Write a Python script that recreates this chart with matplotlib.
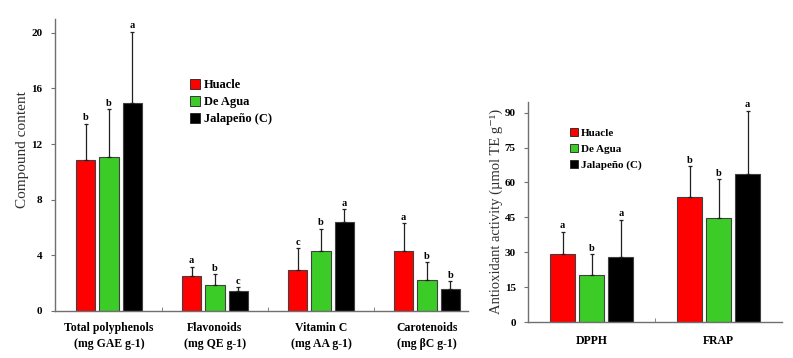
import numpy as np
import matplotlib.pyplot as plt
from matplotlib.patches import Patch

plt.rcParams['font.family'] = ['Liberation Serif', 'DejaVu Serif']

varieties = ['Huacle', 'De Agua', 'Jalapeño (C)']
colors = ['#ff0000', '#3ccc28', '#000000']

# left panel: compound content
compounds = ['Total polyphenols\n(mg GAE g-1)', 'Flavonoids\n(mg QE g-1)',
             'Vitamin C\n(mg AA g-1)', 'Carotenoids\n(mg βC g-1)']
huacle_c = [10.83, 2.47, 2.95, 4.27]
deagua_c = [11.06, 1.87, 4.31, 2.20]
jalap_c = [14.92, 1.42, 6.37, 1.56]
huacle_c_err = [2.63, 0.69, 1.53, 2.01]
deagua_c_err = [3.43, 0.77, 1.58, 1.30]
jalap_c_err = [5.18, 0.26, 0.94, 0.57]
letters_c = [['b', 'a', 'c', 'a'], ['b', 'b', 'b', 'b'], ['a', 'c', 'a', 'b']]

# right panel: antioxidant activity
assays = ['DPPH', 'FRAP']
huacle_a = [29.2, 53.6]
deagua_a = [20.3, 44.6]
jalap_a = [28.1, 63.8]
huacle_a_err = [9.6, 13.5]
deagua_a_err = [8.9, 16.9]
jalap_a_err = [15.8, 27.0]
letters_a = [['a', 'b'], ['b', 'b'], ['a', 'a']]

fig = plt.figure(figsize=(7.93, 3.58), dpi=100)
ax1 = fig.add_axes([55/793, 1-310.7/358, 412.7/793, 291.7/358])
ax2 = fig.add_axes([528.3/793, 1-322/358, 253.7/793, 220.3/358])


def draw(ax, vals, errs, letters, width, step, off):
    x = np.arange(len(vals[0]))
    for i in range(3):
        xs = x + (i - 1) * step
        ax.bar(xs, vals[i], width, color=colors[i], edgecolor='#404040', linewidth=0.8, zorder=2)
        ax.errorbar(xs, vals[i], yerr=[np.zeros(len(x)), errs[i]], fmt='none',
                    ecolor='#202020', elinewidth=0.9, capsize=1.2, capthick=0.9, zorder=3)
        for j in range(len(x)):
            ax.text(xs[j], vals[i][j] + errs[i][j] + off, letters[i][j], ha='center', va='bottom',
                    fontsize=7.5, fontweight='bold')
    for s in ['top', 'right']:
        ax.spines[s].set_visible(False)
    for s in ['left', 'bottom']:
        ax.spines[s].set_color('#707070')
        ax.spines[s].set_linewidth(1.0)
    ax.set_xticks(x[:-1] + 0.5, minor=True)
    ax.tick_params(axis='x', which='major', length=0)
    ax.tick_params(axis='x', which='minor', direction='in', length=3, color='#707070')
    ax.tick_params(axis='y', direction='out', length=3, color='#707070', labelsize=8, pad=6)
    for lab in ax.get_yticklabels():
        lab.set_fontweight('bold')


draw(ax1, [huacle_c, deagua_c, jalap_c], [huacle_c_err, deagua_c_err, jalap_c_err],
     letters_c, 0.18, 0.22, 0.1)
ax1.set_xlim(-0.509, 3.384)
ax1.set_ylim(0, 21)
ax1.set_yticks([0, 4, 8, 12, 16, 20])
ax1.set_xticks(range(4))
ax1.set_xticklabels(compounds, fontweight='bold', fontsize=8.5, linespacing=1.5)
ax1.tick_params(axis='x', which='major', pad=8)
ax1.set_ylabel('Compound content', fontsize=11, color='#303030')
ax1.yaxis.set_label_coords(-0.063, 0.551)

draw(ax2, [huacle_a, deagua_a, jalap_a], [huacle_a_err, deagua_a_err, jalap_a_err],
     letters_a, 0.197, 0.229, 0.6)
ax2.set_xlim(-0.5, 1.5)
ax2.set_ylim(0, 94.7)
ax2.set_yticks([0, 15, 30, 45, 60, 75, 90])
ax2.set_xticks(range(2))
ax2.set_xticklabels(assays, fontweight='bold', fontsize=8.5)
ax2.tick_params(axis='x', which='major', pad=9)
ax2.set_ylabel('Antioxidant activity (µmol TE g⁻¹)', fontsize=10.5, color='#303030')
ax2.yaxis.set_label_coords(-0.1, 0.504)

handles = [Patch(facecolor=c, edgecolor='#202020', linewidth=0.6) for c in colors]
fig.legend(handles, varieties, loc='upper left', bbox_to_anchor=(190/793, 1-79/358),
           frameon=False, handlelength=0.8, handleheight=0.8, handletextpad=0.3,
           labelspacing=0.4, borderaxespad=0, borderpad=0,
           prop={'weight': 'bold', 'size': 9})
fig.legend(handles, varieties, loc='upper left', bbox_to_anchor=(570/793, 1-128/358),
           frameon=False, handlelength=0.7, handleheight=0.7, handletextpad=0.3,
           labelspacing=0.55, borderaxespad=0, borderpad=0,
           prop={'weight': 'bold', 'size': 8})

fig.savefig('out.png', dpi=100)
